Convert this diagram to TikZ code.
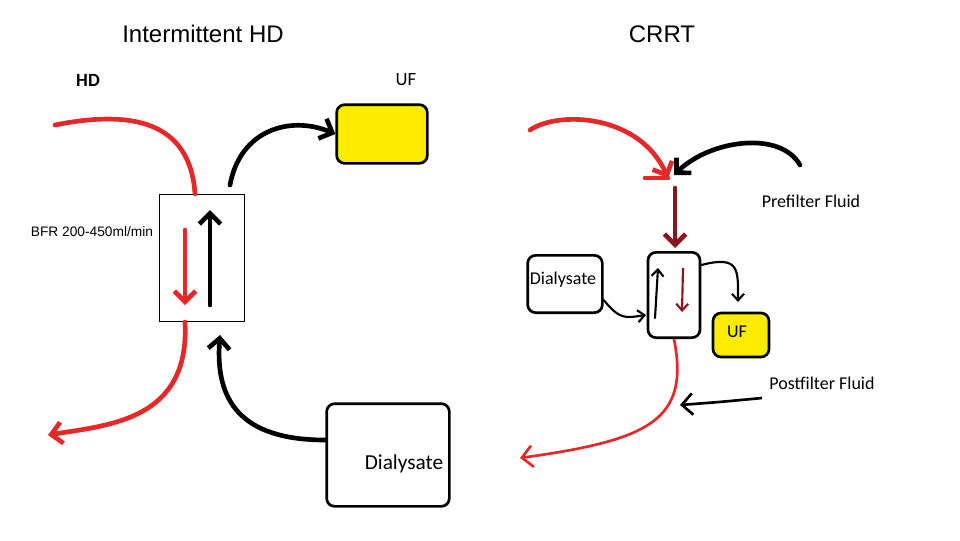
\documentclass[tikz,border=0pt]{standalone}
\usepackage{fontspec}
\setmainfont{Liberation Sans}
\newfontfamily\carl{Carlito}
\usetikzlibrary{arrows.meta}
\definecolor{dred}{RGB}{140,20,30}
\definecolor{myred}{RGB}{230,40,40}
\definecolor{myyel}{RGB}{250,235,0}
\begin{document}
\begin{tikzpicture}[x=0.75pt,y=-0.75pt,
  bx/.style={draw=black,line width=2pt,rounded corners=6pt},
  rl/.style={myred,line width=3.5pt,line cap=round},
  bl/.style={black,line width=3.5pt,line cap=round},
  tl/.style={black,line width=1.6pt,line cap=round},
  tip/.style={-{Straight Barb[length=8pt,width=16pt]}},
  stip/.style={-{Straight Barb[length=5pt,width=9pt]}},
  lab/.style={font=\carl\fontsize{13.5}{16}\selectfont}]
\useasboundingbox[fill=white] (0,0) rectangle (960,540);
\node (t1) at (203,34) {\fontsize{18}{21}\selectfont Intermittent HD};
\node (t2) at (662,34) {\fontsize{18}{21}\selectfont CRRT};
\node[font=\carl\bfseries\fontsize{14}{16}\selectfont] (hd) at (88,80) {HD};
\node[font=\carl\fontsize{14}{16}\selectfont] (uft) at (406,80) {UF};
\node[bx,fill=myyel,minimum width=68pt,minimum height=44pt] (uf) at (382,134) {};
\node[draw,line width=1.2pt,minimum width=64pt,minimum height=95pt] (fil) at (202,258) {};
\node[bx,minimum width=92pt,minimum height=77pt] (dia) at (388,455) {};
\node[font=\carl\fontsize{16}{18}\selectfont] (diat) at (404,464) {Dialysate};
\node[font=\fontsize{10.3}{12}\selectfont] (bfr) at (92,232) {BFR 200-450ml/min};
\coordinate (a1) at (55,125);
\coordinate (a2) at (48,435);
\draw[rl] (a1) .. controls (130,110) and (190,120) .. (fil.north -| 195,0);
\draw[rl,tip] (185,230) -- (185,305);
\draw[rl,tip] (fil.south -| 185,0) .. controls (190,420) and (110,425) .. (a2);
\draw[bl,tip] (210,305) -- (210,210);
\draw[bl,tip] (230,185) .. controls (240,130) and (290,115) .. (uf.west);
\draw[bl,tip] (dia.west |- 0,440) .. controls (240,440) and (215,400) .. (220,335);
% CRRT
\node[bx,minimum width=39pt,minimum height=64pt] (f2) at (674,295) {};
\node[bx,minimum width=56pt,minimum height=43pt] (d2) at (565,284) {};
\node[lab] at (563,280) {Dialysate};
\node[bx,fill=myyel,minimum width=42pt,minimum height=33pt] (u2) at (741,335) {};
\node[lab] at (737,332) {UF};
\node[lab] (pre) at (811,201) {Prefilter Fluid};
\node[lab] (post) at (822,383) {Postfilter Fluid};
\coordinate (j) at (668,178);
\coordinate (r0) at (530,130);
\coordinate (r1) at (520,458);
\coordinate (p0) at (762,398);
\draw[rl,tip] (r0) .. controls (560,110) and (640,115) .. (j);
\draw[rl] (645,178) -- (j);
\draw[bl,tip] (800,165) .. controls (780,130) and (710,140) .. (674,175);
\draw[dred,line width=3.5pt,line cap=round,tip] (675,188) -- (675,248);
\draw[tl,stip] (655,318) -- (658,268);
\draw[dred,line width=1.6pt,stip] (683,268) -- (682,312);
\draw[tl,stip] (d2.east |- 0,300) .. controls (620,320) and (625,318) .. (646,315);
\draw[tl,stip] (f2.east |- 0,265) .. controls (740,255) and (738,270) .. (738,302);
\draw[myred,line width=2pt,tip] (f2.south) .. controls (690,420) and (650,440) .. (r1);
\draw[line width=2pt,tip] (p0) .. controls (720,402) .. (680,405);
\end{tikzpicture}
\end{document}
